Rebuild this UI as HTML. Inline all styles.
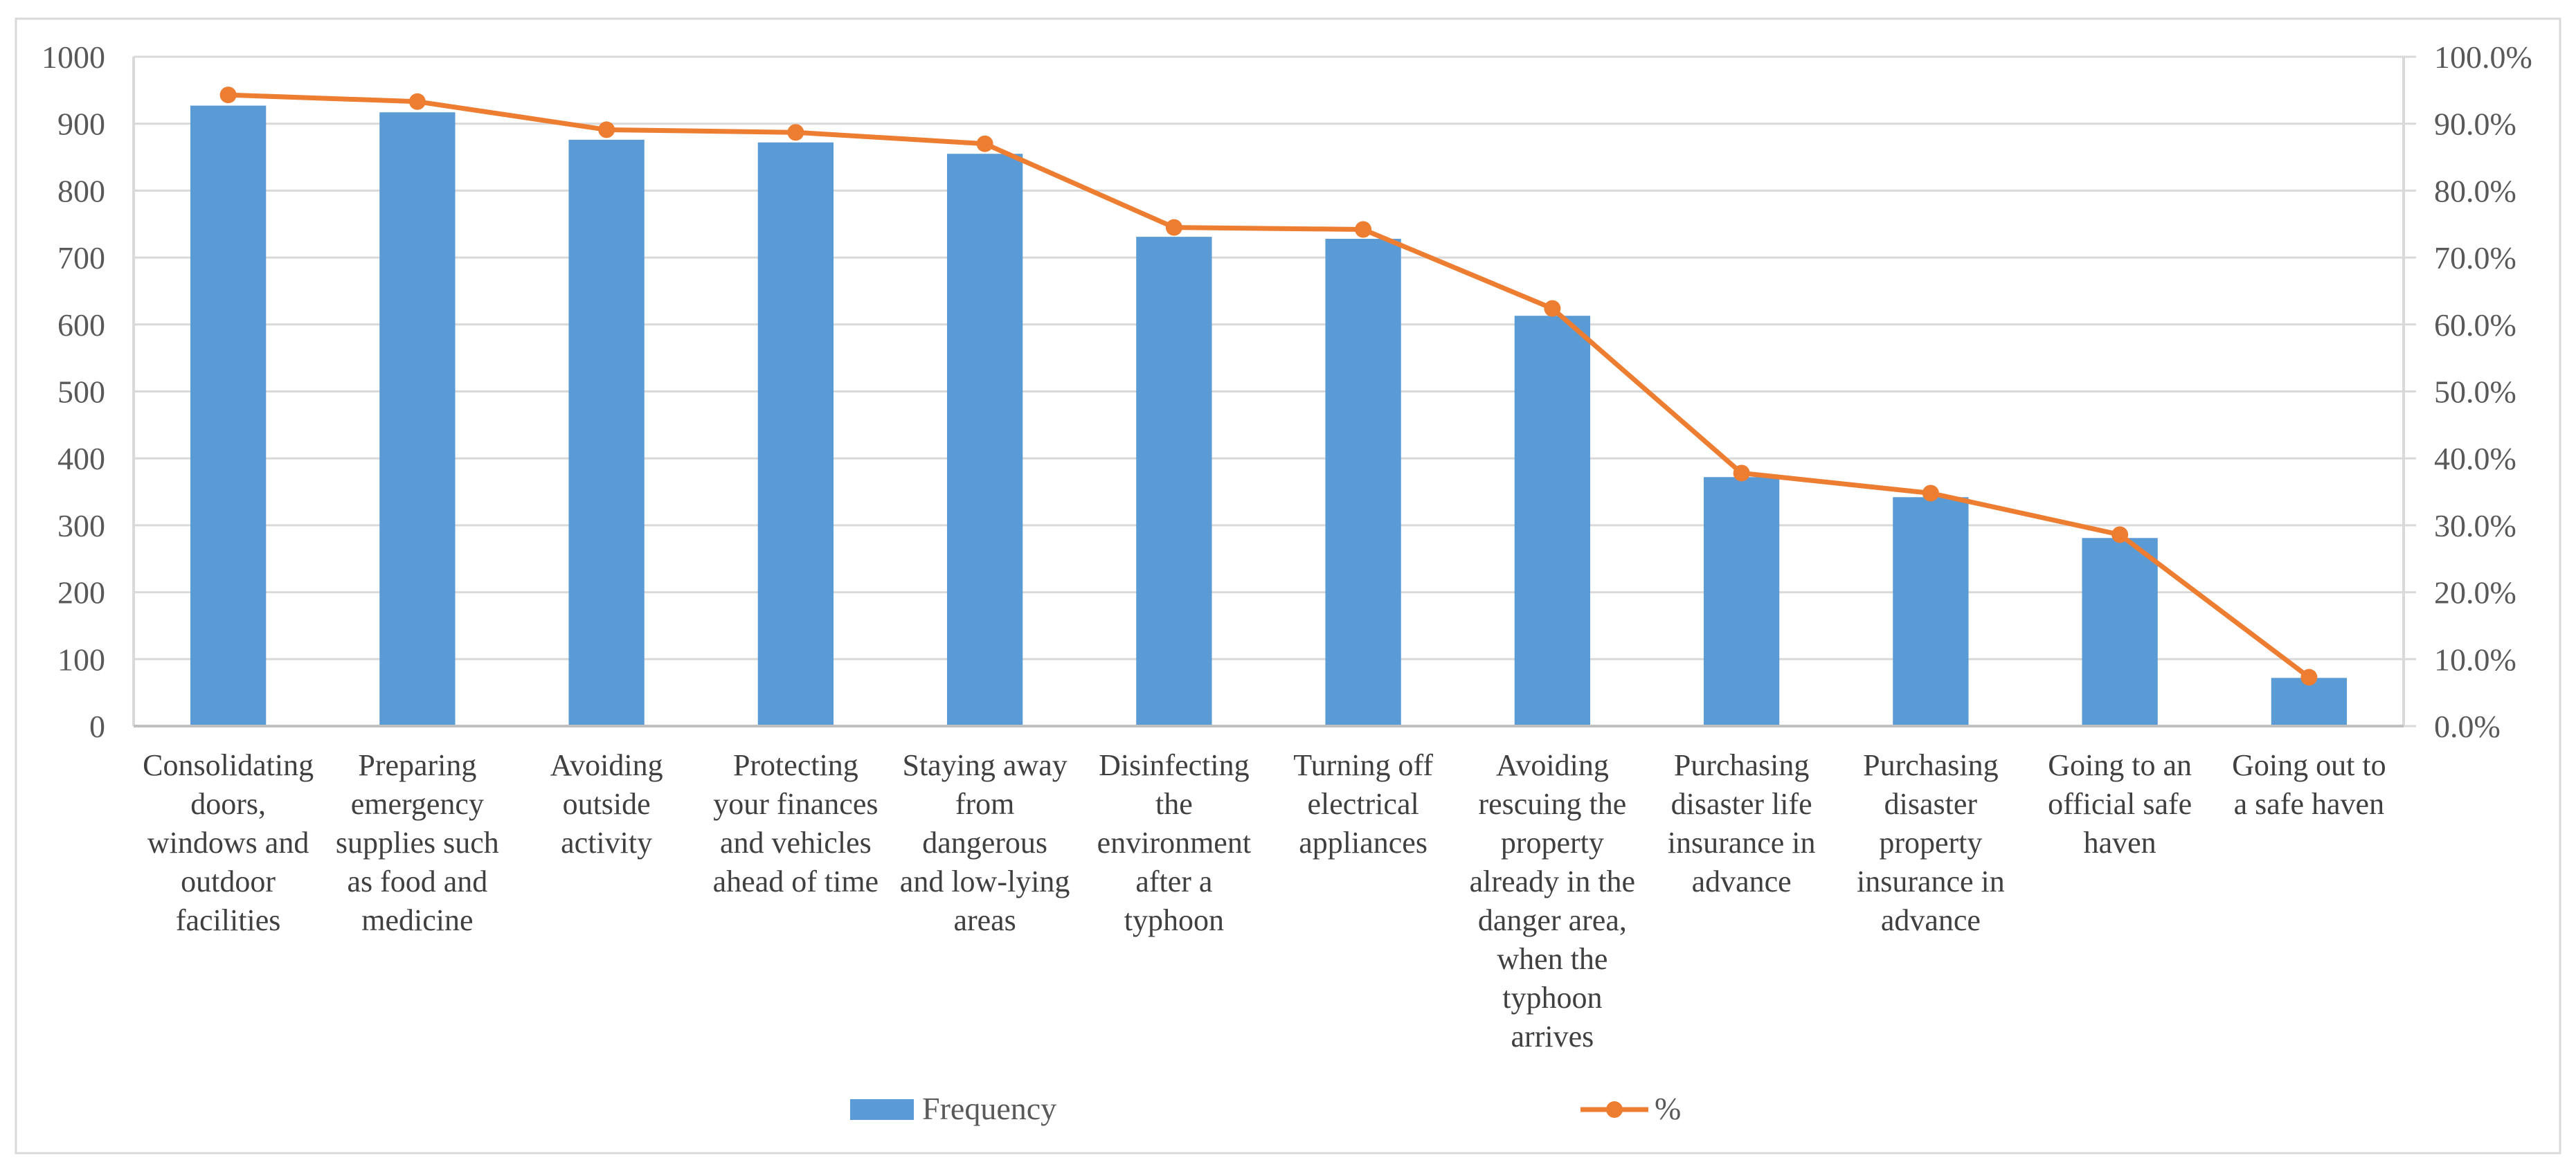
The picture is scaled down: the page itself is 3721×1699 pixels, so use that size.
<!DOCTYPE html>
<html><head><meta charset="utf-8"><style>
html,body{margin:0;padding:0;background:#fff;}
svg{display:block;font-family:"Liberation Serif",serif;}
</style></head><body>
<svg id="chart" width="3721" height="1699" viewBox="0 0 3721 1699">
<rect x="23" y="27" width="3675" height="1639" fill="#fff" stroke="#d9d9d9" stroke-width="3"/>
<g id="grid"></g><g id="bars"></g><g id="line"></g><g id="axes"></g><g id="labels"></g>
<g>
<g>
<rect x="1228" y="1588" width="92" height="30" fill="#5b9bd5"/>
<text x="1332" y="1617" font-size="46" fill="#595959">Frequency</text></g>
<g>
<line x1="2283" y1="1603" x2="2381" y2="1603" stroke="#ed7d31" stroke-width="7"/>
<circle cx="2332" cy="1603" r="12" fill="#ed7d31"/>
<text x="2390" y="1617" font-size="46" fill="#595959">%</text></g>
</g>
</svg>
<script>
const categories = [
 ["Consolidating","doors,","windows and","outdoor","facilities"],
 ["Preparing","emergency","supplies such","as food and","medicine"],
 ["Avoiding","outside","activity"],
 ["Protecting","your finances","and vehicles","ahead of time"],
 ["Staying away","from","dangerous","and low-lying","areas"],
 ["Disinfecting","the","environment","after a","typhoon"],
 ["Turning off","electrical","appliances"],
 ["Avoiding","rescuing the","property","already in the","danger area,","when the","typhoon","arrives"],
 ["Purchasing","disaster life","insurance in","advance"],
 ["Purchasing","disaster","property","insurance in","advance"],
 ["Going to an","official safe","haven"],
 ["Going out to","a safe haven"]
];
const frequency = [927, 917, 876, 872, 855, 731, 728, 613, 372, 342, 281, 72];
const percent = [94.3, 93.3, 89.1, 88.7, 87.0, 74.5, 74.2, 62.4, 37.8, 34.8, 28.6, 7.3];
const leftTicks = [0,100,200,300,400,500,600,700,800,900,1000];
const rightTicks = ["0.0%","10.0%","20.0%","30.0%","40.0%","50.0%","60.0%","70.0%","80.0%","90.0%","100.0%"];

const NS="http://www.w3.org/2000/svg";
const L=193,R=3472,T=82,B=1049;
const band=(R-L)/categories.length;
const xc=i=>L+band*(i+0.5);
const yL=v=>B-(v/1000)*(B-T);
const yR=p=>B-(p/100)*(B-T);
function mk(tag,attrs,parent){const e=document.createElementNS(NS,tag);for(const k in attrs)e.setAttribute(k,attrs[k]);parent.appendChild(e);return e;}
const g=id=>document.getElementById(id);

leftTicks.forEach((v,i)=>{
 const y=yL(v);
 if(v>0){const gl=mk('line',{x1:L,x2:R,y1:y,y2:y,stroke:'#d9d9d9','stroke-width':3},g('grid'));
 
 }
 const t=mk('text',{x:152,y:y+16,'text-anchor':'end','font-size':46,fill:'#595959'},g('labels'));
 t.textContent=v;
 
 
 const tk=mk('line',{x1:R,x2:R+18,y1:y,y2:y,stroke:'#d9d9d9','stroke-width':3},g('axes'));
 
 
 const t2=mk('text',{x:3516,y:y+16,'font-size':46,fill:'#595959'},g('labels'));
 t2.textContent=rightTicks[i];
 
 
});
const ax=mk('line',{x1:L,x2:L,y1:T,y2:B,stroke:'#d9d9d9','stroke-width':4},g('axes'));


const ax2=mk('line',{x1:R,x2:R,y1:T,y2:B,stroke:'#d9d9d9','stroke-width':4},g('axes'));


const ax3=mk('line',{x1:L,x2:R,y1:B,y2:B,stroke:'#bfbfbf','stroke-width':4},g('axes'));



const bw=band*0.4;
frequency.forEach((v,i)=>{
 const r=mk('rect',{x:xc(i)-bw/2,y:yL(v),width:bw,height:B-yL(v),fill:'#5b9bd5'},g('bars'));
 
 
});
const pts=percent.map((p,i)=>xc(i)+','+yR(p)).join(' ');
const pl=mk('polyline',{points:pts,fill:'none',stroke:'#ed7d31','stroke-width':7,'stroke-linejoin':'round'},g('line'));


percent.forEach((p,i)=>{
 const c=mk('circle',{cx:xc(i),cy:yR(p),r:12,fill:'#ed7d31'},g('line'));
 
 
});
categories.forEach((lines,i)=>{
 const t=mk('text',{x:xc(i),y:1120,'text-anchor':'middle','font-size':44,fill:'#404040'},g('labels'));
 
 
 lines.forEach((s,j)=>{const ts=mk('tspan',{x:xc(i),y:1120+j*56},t);ts.textContent=s;});
});
</script>
</body></html>
